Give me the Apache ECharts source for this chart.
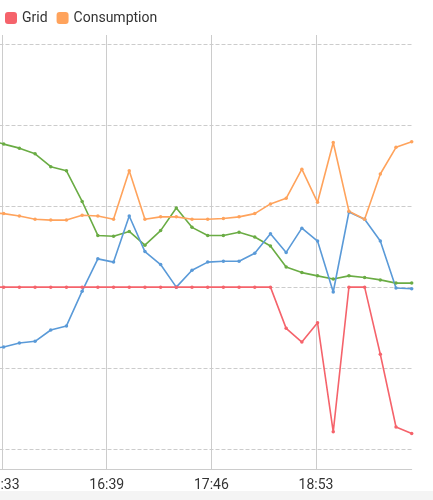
<!DOCTYPE html>
<html>
<head>
<meta charset="utf-8">
<script src="https://cdn.jsdelivr.net/npm/echarts@6/dist/echarts.min.js"></script>
<style>
  html, body { margin: 0; padding: 0; background: #f4f4f4; }
  #chart { width: 433px; height: 491px; background: #ffffff; }
</style>
</head>
<body>
<div id="chart"></div>
<script>
// Sample times (first one lies just left of the visible area)
var times = ["15:24","15:34","15:44","15:54","16:04","16:14","16:24","16:34","16:44","16:54",
             "17:04","17:14","17:24","17:34","17:44","17:54","18:04","18:14","18:24","18:34",
             "18:44","18:54","19:04","19:14","19:24","19:34","19:44","19:54"];
var grid = [0, 0, 0, 0, 0, 0, 0, 0, 0, 0, 0, 0, 0, 0, 0, 0, 0, 0, 0,
            -0.51, -0.68, -0.44, -1.79, 0, 0, -0.83, -1.73, -1.81];
var consumption = [0.92, 0.91, 0.88, 0.84, 0.83, 0.83, 0.89, 0.88, 0.84, 1.44,
                   0.84, 0.87, 0.87, 0.84, 0.84, 0.85, 0.87, 0.91, 1.03, 1.10,
                   1.46, 1.05, 1.79, 0.94, 0.84, 1.40, 1.73, 1.80];
var solar = [1.83, 1.77, 1.72, 1.65, 1.49, 1.44, 1.06, 0.64, 0.63, 0.69,
             0.52, 0.70, 0.98, 0.74, 0.64, 0.64, 0.68, 0.62, 0.51, 0.25,
             0.18, 0.14, 0.10, 0.14, 0.12, 0.09, 0.05, 0.05];
var battery = [-0.77, -0.74, -0.69, -0.67, -0.53, -0.48, -0.05, 0.35, 0.31, 0.88,
               0.44, 0.28, 0.00, 0.21, 0.31, 0.32, 0.32, 0.42, 0.66, 0.43,
               0.73, 0.57, -0.06, 0.93, 0.84, 0.57, -0.01, -0.02];
var legendNames = ["Grid", "Consumption"];

// axis origin 14:26:20, tick every 66 min 40 s
var ORIGIN = 14 * 60 + 26 + 20 / 60;
var TICK = 200 / 3;
function toOffset(t) {
  var p = t.split(":");
  return (+p[0]) * 60 + (+p[1]) - ORIGIN;
}
function fmt(v) {
  var secs = Math.round((v + ORIGIN) * 60);
  var m = Math.floor(secs / 60);
  var h = Math.floor(m / 60), mm = m % 60;
  return (h < 10 ? "0" : "") + h + ":" + (mm < 10 ? "0" : "") + mm;
}
function pairs(vals) {
  return vals.map(function (v, i) { return [toOffset(times[i]), v]; });
}
var xMax = toOffset(times[times.length - 1]);

var colors = { Grid: "#f5636b", Consumption: "#ffa35c", Solar: "#6aac44", Battery: "#5a9ad8" };
function line(name, vals) {
  return {
    name: name, type: "line", data: pairs(vals),
    symbol: "circle", symbolSize: 3.5, showSymbol: true,
    lineStyle: { width: 1.6, color: colors[name] },
    itemStyle: { color: colors[name] },
    emphasis: { disabled: true }
  };
}

var chart = echarts.init(document.getElementById("chart"), null, { renderer: "canvas" });
chart.setOption({
  animation: false,
  color: [colors.Grid, colors.Consumption, colors.Solar, colors.Battery],
  legend: {
    data: legendNames, left: 0, top: 6, icon: "roundRect",
    itemWidth: 12, itemHeight: 12, itemGap: 9,
    textStyle: { fontSize: 14, color: "#333", fontFamily: "Roboto" }
  },
  grid: { left: -102.5, right: 21.3, top: 35, bottom: 22,
          containLabel: false, outerBoundsMode: "none" },
  xAxis: {
    type: "value", min: 0, max: xMax, interval: TICK,
    axisLine: { onZero: false, lineStyle: { color: "#cccccc", width: 1 } },
    axisTick: { show: false },
    axisLabel: { formatter: fmt, color: "#333", fontSize: 14, fontFamily: "Roboto",
                 margin: 9, showMaxLabel: false, hideOverlap: false },
    splitLine: { show: true, showMaxLine: false, lineStyle: { color: "#cccccc", width: 1 } }
  },
  yAxis: {
    type: "value", min: -2.25, max: 3.12, splitNumber: 5,
    axisLine: { show: false }, axisTick: { show: false }, axisLabel: { show: false },
    splitLine: { show: true, showMinLine: false, showMaxLine: false,
                 lineStyle: { type: "dashed", color: "#cccccc", width: 1 } }
  },
  series: [
    line("Solar", solar),
    line("Battery", battery),
    line("Consumption", consumption),
    line("Grid", grid)
  ]
});
</script>
</body>
</html>
